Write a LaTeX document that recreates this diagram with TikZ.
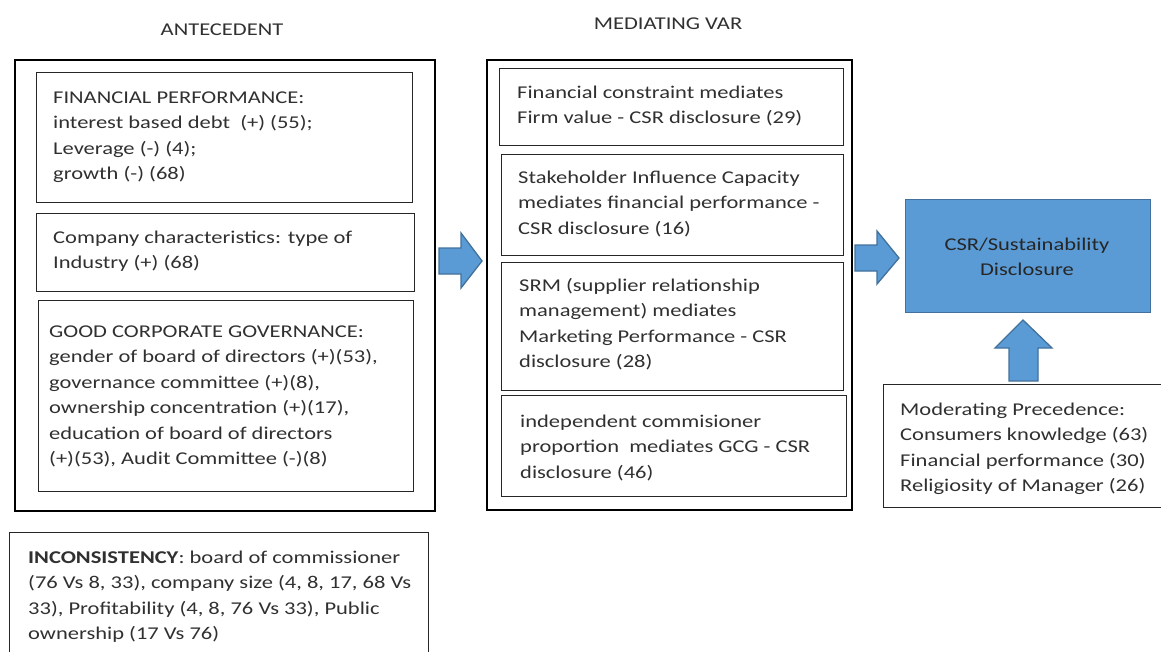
\documentclass[tikz,border=0pt]{standalone}
\usepackage{fontspec}
\setmainfont[FakeStretch=1.25]{Carlito}
\usepackage{array}
\newcommand\tl[1]{\begin{tabular}[t]{@{}l@{}}#1\end{tabular}}
\newcommand\tc[1]{\begin{tabular}[t]{@{}c@{}}#1\end{tabular}}
\definecolor{txtgray}{HTML}{303030}
\definecolor{accblue}{HTML}{5B9BD5}
\definecolor{accborder}{HTML}{41719C}
\tikzset{
  outerbox/.style={draw=black, line width=2.4pt, rectangle, inner sep=0pt, anchor=north west},
  innerbox/.style={draw=black!85, line width=1.1pt, rectangle, inner sep=0pt, anchor=north west},
  bluebox/.style={draw=accborder, fill=accblue, line width=1.4pt, rectangle, inner sep=0pt, anchor=north west},
  body/.style={inner sep=0pt, anchor=base west, text=txtgray, font=\fontsize{18}{25.5}\selectfont},
  bodyc/.style={inner sep=0pt, anchor=base, text=black!85, font=\fontsize{18}{25.5}\selectfont},
  blockarrow/.style={draw=accborder, fill=accblue, line width=1.3pt, line join=miter}
}
\begin{document}
\begin{tikzpicture}[x=1pt, y=-1pt]
\useasboundingbox (0,0) rectangle (1161,651);
\clip (0,0) rectangle (1161,651);
% titles
\node[bodyc, text=txtgray] (t1) at (222,35) {ANTECEDENT};
\node[bodyc, text=txtgray] (t2) at (668,29) {MEDIATING VAR};
% antecedent outer
\node[outerbox, minimum width=420pt, minimum height=451pt] (ante) at (14,59) {};
\node[innerbox, minimum width=376pt, minimum height=130pt] (fp) at (36,72) {};
\node[body] (fpt) at (53,103) {\tl{FINANCIAL PERFORMANCE:\\ interest based debt~ (+) (55);\\ Leverage (-) (4);\\ growth (-) (68)}};
\node[innerbox, minimum width=378pt, minimum height=78pt] (cc) at (36,213) {};
\node[body] (cct) at (53,243) {\tl{Company characteristics: type of\\ Industry (+) (68)}};
\node[innerbox, minimum width=375pt, minimum height=191pt] (gcg) at (38,300) {};
\node[body] (gcgt) at (49,337) {\tl{GOOD CORPORATE GOVERNANCE:\\ gender of board of directors (+)(53),\\ governance committee (+)(8),\\ ownership concentration (+)(17),\\ education of board of directors\\ (+)(53), Audit Committee (-)(8)}};
% mediating outer
\node[outerbox, minimum width=365pt, minimum height=450pt] (med) at (486,59) {};
\node[innerbox, minimum width=344pt, minimum height=77pt] (m1) at (499,68) {};
\node[body] (m1t) at (517,98) {\tl{Financial constraint mediates\\ Firm value - CSR disclosure (29)}};
\node[innerbox, minimum width=342pt, minimum height=101pt] (m2) at (501,154) {};
\node[body] (m2t) at (518,183) {\tl{Stakeholder Influence Capacity\\ mediates financial performance -\\ CSR disclosure (16)}};
\node[innerbox, minimum width=342pt, minimum height=128pt] (m3) at (501,262) {};
\node[body] (m3t) at (519,291) {\tl{SRM (supplier relationship\\ management) mediates\\ Marketing Performance - CSR\\ disclosure (28)}};
\node[innerbox, minimum width=345pt, minimum height=101pt] (m4) at (501,395) {};
\node[body] (m4t) at (520,427) {\tl{independent commisioner\\ proportion~ mediates GCG - CSR\\ disclosure (46)}};
% CSR box
\node[bluebox, minimum width=245pt, minimum height=113pt] (csr) at (905,199) {};
\node[bodyc] (csrt) at (1027,250) {\tc{CSR/Sustainability\\ Disclosure}};
% moderating
\node[innerbox, minimum width=290pt, minimum height=123pt] (mod) at (883,384) {};
\node[body] (modt) at (900,415) {\tl{Moderating Precedence:\\ Consumers knowledge (63)\\ Financial performance (30)\\ Religiosity of Manager (26)}};
% inconsistency
\node[innerbox, minimum width=419pt, minimum height=140pt] (inc) at (9,532) {};
\node[body] (inct) at (28,563) {\tl{\textbf{INCONSISTENCY}: board of commissioner\\ (76 Vs 8, 33), company size (4, 8, 17, 68 Vs\\ 33), Profitability (4, 8, 76 Vs 33), Public\\ ownership (17 Vs 76)}};
% block arrows
\draw[blockarrow] (439,248) -- (461,248) -- (461,233) -- (482,261) -- (461,288) -- (461,274) -- (439,274) -- cycle;
\draw[blockarrow] (855,245) -- (877,245) -- (877,231) -- (899,258) -- (877,284) -- (877,271) -- (855,271) -- cycle;
\draw[blockarrow] (1009,381) -- (1009,348) -- (995,348) -- (1023,320) -- (1052,348) -- (1038,348) -- (1038,381) -- cycle;
\end{tikzpicture}
\end{document}
